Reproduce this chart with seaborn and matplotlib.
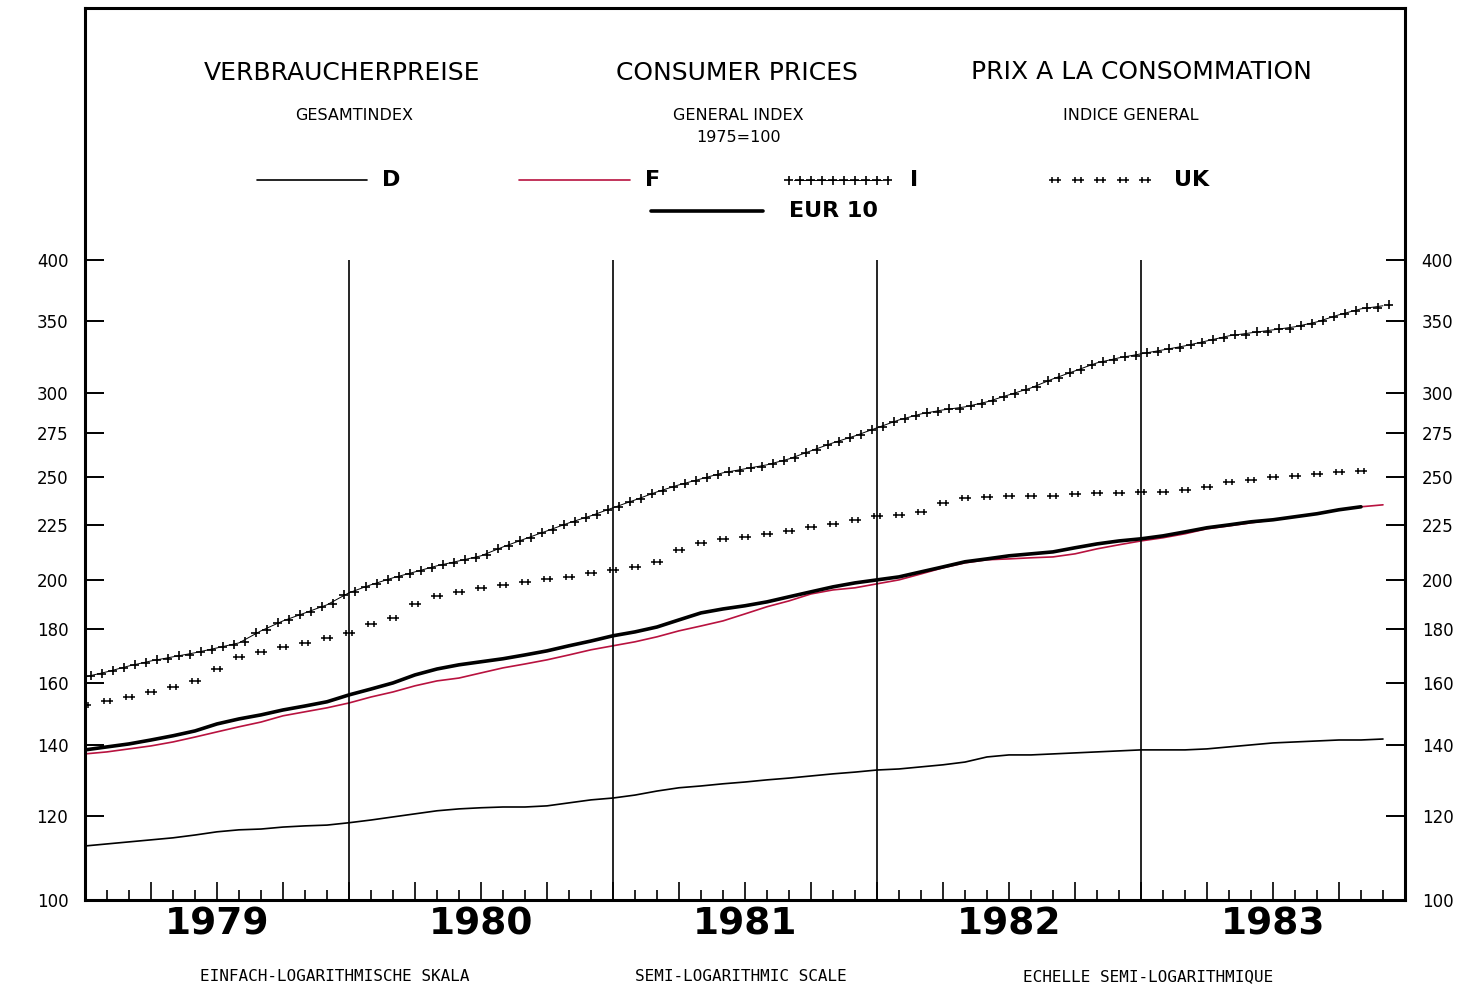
import numpy as np
import pandas as pd
import matplotlib
matplotlib.use("Agg")
import matplotlib.pyplot as plt
import matplotlib.transforms as mtransforms
from matplotlib.path import Path
from matplotlib.ticker import MultipleLocator, NullLocator
import seaborn as sns

# ===============================
# style
# ===============================
sns.set_style("white")
plt.rcParams['font.family'] = ['DejaVu Sans']
plt.rcParams['text.color'] = 'black'
plt.rcParams['xtick.color'] = 'black'
plt.rcParams['ytick.color'] = 'black'

# ===============================
# data: monthly index, 1975=100, Jan 1979 - Dec 1983
# ===============================
years = [1979, 1980, 1981, 1982, 1983]
months = np.array([y + m / 12 for y in years for m in range(12)])

d_vals = [112.4, 112.9, 113.4, 113.9, 114.4, 115.1, 115.9, 116.4, 116.6, 117.1, 117.4, 117.6,
          118.2, 118.9, 119.7, 120.5, 121.3, 121.8, 122.1, 122.3, 122.3, 122.6, 123.4, 124.2,
          124.7, 125.5, 126.6, 127.5, 128.0, 128.6, 129.1, 129.7, 130.2, 130.8, 131.4, 131.9,
          132.5, 132.8, 133.4, 134.0, 134.8, 136.3, 136.9, 136.9, 137.2, 137.5, 137.8, 138.1,
          138.4, 138.4, 138.4, 138.7, 139.3, 139.9, 140.5, 140.8, 141.1, 141.4, 141.4, 141.7]

f_vals = [137.2, 137.8, 138.7, 139.6, 140.8, 142.3, 143.9, 145.5, 147.0, 149.0, 150.3, 151.6,
          153.2, 155.2, 156.9, 159.0, 160.7, 161.7, 163.5, 165.3, 166.7, 168.2, 170.0, 171.9,
          173.4, 174.9, 176.8, 179.1, 181.0, 183.0, 185.8, 188.7, 191.1, 194.0, 195.7, 196.6,
          198.3, 200.0, 202.6, 205.3, 207.5, 208.9, 209.3, 209.8, 210.2, 211.6, 213.9, 215.8,
          217.6, 219.1, 221.0, 223.4, 224.8, 226.3, 227.8, 229.3, 230.8, 232.8, 234.3, 235.3]

i_vals = [162.1, 163.9, 166.0, 167.8, 169.3, 170.8, 172.6, 174.5, 179.1, 183.0, 186.2, 189.5,
          194.5, 197.9, 200.9, 203.5, 206.2, 208.4, 210.7, 214.8, 218.6, 222.4, 226.3, 229.8,
          233.8, 237.8, 242.0, 245.7, 248.9, 252.2, 254.4, 256.6, 259.9, 264.5, 269.1, 273.2,
          278.0, 282.8, 286.5, 289.0, 290.9, 294.1, 298.6, 303.1, 309.1, 314.5, 320.0, 323.5,
          326.3, 329.1, 332.0, 335.6, 339.3, 341.5, 343.7, 346.0, 349.7, 355.1, 359.7, 362.1]

uk_vals = [152.6, 153.9, 155.2, 156.9, 158.6, 160.7, 164.9, 169.3, 171.1, 173.0, 174.5, 176.4,
           178.3, 181.8, 184.2, 189.9, 193.2, 194.9, 196.6, 197.9, 199.1, 200.4, 201.3, 203.1,
           204.4, 205.7, 208.0, 213.4, 216.7, 218.6, 219.5, 221.0, 222.4, 224.3, 225.8, 227.8,
           229.8, 230.3, 231.8, 236.3, 238.9, 239.4, 239.9, 239.9, 239.9, 241.0, 241.5, 241.5,
           242.0, 242.0, 243.1, 244.6, 247.3, 248.4, 250.0, 250.5, 251.6, 252.7, 253.3, np.nan]

eur_vals = [138.4, 139.3, 140.2, 141.4, 142.7, 144.2, 146.4, 148.0, 149.3, 150.9, 152.2, 153.6,
            155.9, 157.9, 160.0, 162.8, 164.9, 166.4, 167.5, 168.6, 170.0, 171.5, 173.4, 175.2,
            177.2, 178.7, 180.6, 183.4, 186.2, 187.8, 189.1, 190.7, 192.8, 194.9, 197.0, 198.7,
            200.0, 201.3, 203.5, 205.7, 208.0, 209.3, 210.7, 211.6, 212.5, 214.4, 216.2, 217.6,
            218.6, 220.0, 221.9, 223.9, 225.3, 226.8, 227.8, 229.3, 230.8, 232.8, 234.3, np.nan]

y_ticks = [100, 120, 140, 160, 180, 200, 225, 250, 275, 300, 350, 400]

df = pd.DataFrame({'t': months, 'D': d_vals, 'F': f_vals, 'I': i_vals,
                   'UK': uk_vals, 'EUR': eur_vals})

RED = '#b8123f'


# double-cross marker ("++"); rise tilts the pair to follow a rising line
def double_plus(gap, arm, rise=0.0):
    verts, codes = [], []
    for cx, cy in ((-gap / 2, -rise / 2), (gap / 2, rise / 2)):
        verts += [(cx - arm, cy), (cx + arm, cy), (cx, cy - arm), (cx, cy + arm)]
        codes += [Path.MOVETO, Path.LINETO, Path.MOVETO, Path.LINETO]
    return Path(verts, codes)


marker_i = double_plus(11, 4.5, rise=3.0)   # chain of crosses on the rising I line
marker_i_key = double_plus(11, 4.5)          # same, flat, for the key
marker_uk = double_plus(6, 3)                # separated pairs

# ===============================
# figure
# ===============================
fig = plt.figure(figsize=(14.78, 9.93), dpi=100)
ax = fig.add_axes([0.0575, 0.0937, 0.8931, 0.8982])
ax.set_yscale('log')

sns.lineplot(data=df, x='t', y='D', ax=ax, color='black', lw=1.2, estimator=None)
sns.lineplot(data=df, x='t', y='F', ax=ax, color=RED, lw=1.2, estimator=None)
sns.lineplot(data=df, x='t', y='EUR', ax=ax, color='black', lw=2.6, estimator=None)
ax.plot(df['t'], df['I'], color='black', lw=0.7, marker=marker_i, ms=14.4,
        mew=1.2, mfc='none', mec='black')
ax.plot(df['t'], df['UK'], ls='none', marker=marker_uk, ms=8.6,
        mew=1.1, mfc='none', mec='black')

# year separators
ax.vlines(years[1:], 100, 400, color='black', lw=1.2)

ax.set_xlim(years[0], years[-1] + 1)
ax.set_ylim(100, 690)
ax.set_xlabel('')
ax.set_ylabel('')

ax.set_yticks(y_ticks)
ax.set_yticklabels([str(v) for v in y_ticks])
ax.yaxis.set_minor_locator(NullLocator())
ax.tick_params(axis='y', which='major', direction='in', length=14, width=1.4,
               left=True, right=True, labelleft=True, labelright=True,
               pad=12, labelsize=12, colors='black')

ax.xaxis.set_major_locator(MultipleLocator(0.25))
ax.xaxis.set_minor_locator(MultipleLocator(1 / 12))
ax.tick_params(axis='x', which='major', direction='in', length=13, width=1.2,
               bottom=True, top=False, labelbottom=False)
ax.tick_params(axis='x', which='minor', direction='in', length=7, width=1.2,
               bottom=True, top=False)

for s in ax.spines.values():
    s.set_color('black')
    s.set_linewidth(2.2)

# year labels under the axis
trans = mtransforms.blended_transform_factory(ax.transData, ax.transAxes)
for yr in years:
    ax.text(yr + 0.5, -0.028, str(yr), transform=trans, ha='center', va='center',
            fontsize=27, fontweight='bold')

# ===============================
# header
# ===============================
ta = ax.transAxes
ax.text(0.195, 0.927, 'VERBRAUCHERPREISE', transform=ta, ha='center', va='center', fontsize=18)
ax.text(0.494, 0.927, 'CONSUMER PRICES', transform=ta, ha='center', va='center', fontsize=18)
ax.text(0.800, 0.928, 'PRIX A LA CONSOMMATION', transform=ta, ha='center', va='center', fontsize=18)
ax.text(0.204, 0.879, 'GESAMTINDEX', transform=ta, ha='center', va='center', fontsize=11.5)
ax.text(0.495, 0.880, 'GENERAL INDEX', transform=ta, ha='center', va='center', fontsize=11.5)
ax.text(0.495, 0.855, '1975=100', transform=ta, ha='center', va='center', fontsize=11.5)
ax.text(0.792, 0.880, 'INDICE GENERAL', transform=ta, ha='center', va='center', fontsize=11.5)

# hand-made legend
ly1, ly2 = 0.807, 0.772
ax.plot([0.130, 0.214], [ly1, ly1], transform=ta, color='black', lw=1.2)
ax.text(0.225, ly1, 'D', transform=ta, ha='left', va='center', fontsize=16, fontweight='bold')
ax.plot([0.329, 0.413], [ly1, ly1], transform=ta, color=RED, lw=1.2)
ax.text(0.424, ly1, 'F', transform=ta, ha='left', va='center', fontsize=16, fontweight='bold')
ax.plot(np.linspace(0.537, 0.604, 5), [ly1] * 5, transform=ta, color='black', lw=0.7,
        marker=marker_i_key, ms=14.4, mew=1.2, mfc='none', mec='black')
ax.text(0.625, ly1, 'I', transform=ta, ha='left', va='center', fontsize=16, fontweight='bold')
ax.plot(np.linspace(0.735, 0.803, 5), [ly1] * 5, transform=ta, ls='none',
        marker=marker_uk, ms=8.6, mew=1.1, mfc='none', mec='black')
ax.text(0.825, ly1, 'UK', transform=ta, ha='left', va='center', fontsize=16, fontweight='bold')
ax.plot([0.429, 0.514], [ly2, ly2], transform=ta, color='black', lw=2.6)
ax.text(0.533, ly2, 'EUR 10', transform=ta, ha='left', va='center', fontsize=16, fontweight='bold')

# scale notes at the bottom
mono = ['DejaVu Sans Mono']
fig.text(0.2267, 0.017, 'EINFACH-LOGARITHMISCHE SKALA', ha='center', va='center',
         fontsize=11.5, family=mono)
fig.text(0.5014, 0.017, 'SEMI-LOGARITHMIC SCALE', ha='center', va='center',
         fontsize=11.5, family=mono)
fig.text(0.7767, 0.017, 'ECHELLE SEMI-LOGARITHMIQUE', ha='center', va='center',
         fontsize=11.5, family=mono)

plt.savefig('out.png', dpi=100, facecolor='white')
plt.close()
